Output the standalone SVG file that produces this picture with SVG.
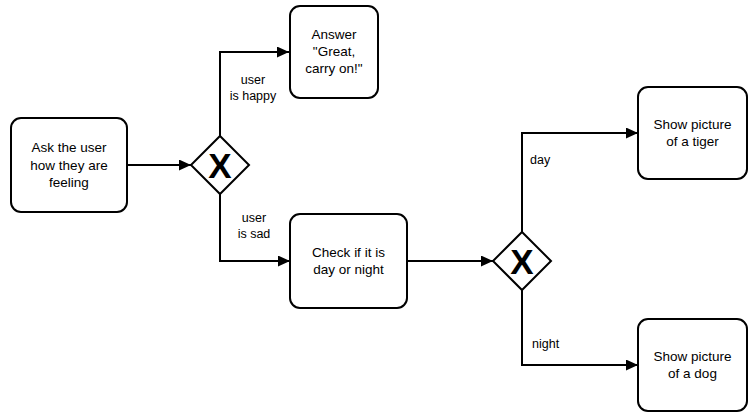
<svg xmlns="http://www.w3.org/2000/svg" width="749" height="414" viewBox="0 0 749 414">
  <style>
    .box { fill: #fff; stroke: #000; stroke-width: 2; }
    .gw { fill: #fff; stroke: #000; stroke-width: 2; }
    .txt { font-family: "Liberation Sans", Arial, sans-serif; font-size: 13.5px; fill: #000; text-anchor: middle; }
    .lbl { font-family: "Liberation Sans", Arial, sans-serif; font-size: 12.5px; fill: #000; }
    .x { font-family: "Liberation Sans", Arial, sans-serif; font-size: 35px; font-weight: bold; fill: #000; text-anchor: middle; }
    .edge { fill: none; stroke: #000; stroke-width: 2; }
  </style>
  <defs>
    <marker id="arrow" viewBox="0 0 12 11" refX="12" refY="5.5" markerWidth="12" markerHeight="11" markerUnits="userSpaceOnUse" orient="auto">
      <path d="M0,0 L12,5.5 L0,11 Z" fill="#000"/>
    </marker>
  </defs>
  <rect width="749" height="414" fill="#fff"/>

  <g id="connectors">
    <path class="edge" d="M127,165 H191" marker-end="url(#arrow)"/>
    <path class="edge" d="M220,136 V52 H289" marker-end="url(#arrow)"/>
    <path class="edge" d="M220,194 V261 H290" marker-end="url(#arrow)"/>
    <path class="edge" d="M407,261 H493" marker-end="url(#arrow)"/>
    <path class="edge" d="M522,232 V133 H638" marker-end="url(#arrow)"/>
    <path class="edge" d="M522,290 V365 H638" marker-end="url(#arrow)"/>
    <text class="lbl" x="253" y="84" text-anchor="middle">user</text>
    <text class="lbl" x="253" y="100" text-anchor="middle">is happy</text>
    <text class="lbl" x="254" y="222" text-anchor="middle">user</text>
    <text class="lbl" x="254" y="238" text-anchor="middle">is sad</text>
    <text class="lbl" x="530" y="164">day</text>
    <text class="lbl" x="532" y="348">night</text>
  </g>

  <g id="ask">
    <rect class="box" x="11" y="118" width="116" height="94" rx="10"/>
    <text class="txt" x="69" y="152">Ask the user</text>
    <text class="txt" x="69" y="169.5">how they are</text>
    <text class="txt" x="69" y="187">feeling</text>
  </g>

  <g id="gateway-mood">
    <path class="gw" d="M220,136 L249,165 L220,194 L191,165 Z"/>
    <text class="x" x="220" y="177.5">X</text>
  </g>

  <g id="answer">
    <rect class="box" x="290" y="6" width="88" height="92" rx="10"/>
    <text class="txt" x="334" y="39">Answer</text>
    <text class="txt" x="334" y="56">"Great,</text>
    <text class="txt" x="334" y="73">carry on!"</text>
  </g>

  <g id="check">
    <rect class="box" x="290" y="214" width="117" height="94" rx="10"/>
    <text class="txt" x="348.5" y="257">Check if it is</text>
    <text class="txt" x="348.5" y="274">day or night</text>
  </g>

  <g id="gateway-time">
    <path class="gw" d="M522,232 L551,261 L522,290 L493,261 Z"/>
    <text class="x" x="522" y="273.5">X</text>
  </g>

  <g id="tiger">
    <rect class="box" x="638" y="87" width="109" height="92" rx="10"/>
    <text class="txt" x="692.5" y="129">Show picture</text>
    <text class="txt" x="692.5" y="146">of a tiger</text>
  </g>

  <g id="dog">
    <rect class="box" x="638" y="319" width="109" height="92" rx="10"/>
    <text class="txt" x="692.5" y="361">Show picture</text>
    <text class="txt" x="692.5" y="378">of a dog</text>
  </g>
</svg>
